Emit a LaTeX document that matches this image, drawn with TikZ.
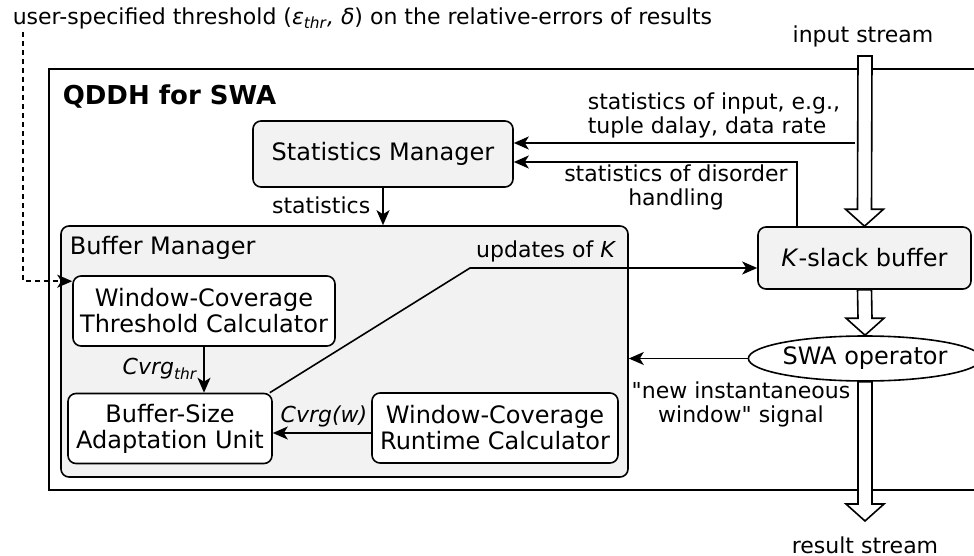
\documentclass[tikz,border=0pt]{standalone}
\usepackage{fontspec}
\setmainfont{DejaVu Sans}[Ligatures=TeXOff]
\usetikzlibrary{arrows.meta}
\usetikzlibrary{calc}
\usetikzlibrary{shapes.geometric}

\definecolor{panelgray}{RGB}{242,242,242}

% wide open arrow for the streams, from #1 down to the tip #2
\newcommand{\hollowarrow}[2]{%
  \draw[hollow] ($(#1)+(-7,0)$) -- ($(#1)+(7,0)$) -- ($(#2)+(7,-17)$) -- ($(#2)+(19,-17)$)
    -- (#2) -- ($(#2)+(-19,-17)$) -- ($(#2)+(-7,-17)$) -- cycle;}

\begin{document}
\begin{tikzpicture}[x=0.5pt,y=-0.5pt,line width=0.8pt,>={Stealth[length=7.5pt,width=6.5pt,inset=2pt]}]
          \tikzstyle{unit} = [draw=black, rounded corners=4pt, fill=white, align=center, font=\fontsize{12}{13}\selectfont, minimum height=35pt, inner sep=1pt]
          \tikzstyle{panel} = [unit, fill=panelgray]
          \tikzstyle{note} = [font=\fontsize{11}{12}\selectfont, inner sep=1pt]
          \tikzstyle{hollow} = [draw=black, fill=white, line join=miter]

          \useasboundingbox (0,0) rectangle (974,556);

          % Frame
          \draw (980,69) -- (49,69) -- (49,490) -- (980,490);
          \node[font=\bfseries\fontsize{13}{15}\selectfont, anchor=west, inner sep=0pt] (qddh) at (62,97) {QDDH for SWA};

          % Nodes
          \node[panel, minimum width=283.5pt, minimum height=125.5pt] (bm) at (344.5,351.5) {};
          \node[note, anchor=west, font=\fontsize{12}{13}\selectfont] (bmtitle) at (67,248) {Buffer Manager};
          \node[panel, minimum width=130pt, minimum height=33pt] (sm) at (383,154) {Statistics Manager};
          \node[unit, minimum width=131pt] (wctc) at (204,311) {Window-Coverage\\Threshold Calculator};
          \node[unit, minimum width=102pt] (bsau) at (170,428.5) {Buffer-Size\\Adaptation Unit};
          \node[unit, minimum width=123pt] (wcrc) at (495,428) {Window-Coverage\\Runtime Calculator};
          \node[panel, minimum width=106.5pt, minimum height=31pt] (kbuf) at (864.5,258) {\textit{K}-slack buffer};
          \node[ellipse, draw=black, fill=white, font=\fontsize{12}{13}\selectfont, minimum width=106.5pt, minimum height=22.5pt, inner sep=0pt] (swa) at (865,358.5) {SWA operator};

          \coordinate (thr) at (23,32);
          \coordinate (tap) at (855,143);
          \coordinate (bend) at (470,268);
          \coordinate (instart) at (865,56);
          \coordinate (resend) at (865,521);

          % Edges
          \draw[->, dash pattern=on 2.5pt off 2pt] (thr) |- ([yshift=-3pt]wctc.north west);
          \draw[->] (tap) -- (tap -| sm.east);
          \draw[->] ([xshift=-33.75pt]kbuf.north) |- ([yshift=-4pt]sm.east);
          \draw[->] (sm.south) -- (sm.south |- bm.north);
          \draw[->] (wctc.south) -- (wctc.south |- bsau.north);
          \draw[->] ([yshift=-2.5pt]wcrc.west) -- ([yshift=-2.5pt]wcrc.west -| bsau.east);
          \draw[->] ([xshift=-1.5pt]bsau.north east) -- (bend) -- (bend -| kbuf.west);
          \draw[->] (swa.west) -- (swa.west -| bm.east);

          % Streams
          \hollowarrow{instart}{kbuf.north}
          \hollowarrow{kbuf.south}{swa.north}
          \hollowarrow{swa.south}{resend}

          % Labels
          \node[note, anchor=west] (thrlbl) at (10,18) {user-specified threshold (\textit{ε\textsubscript{thr}, δ}) on the relative-errors of results};
          \node[note] (instream) at (863,36) {input stream};
          \node[note] (outstream) at (865,545) {result stream};
          \node[note, anchor=west, align=left] (instat) at (585,115) {statistics of input, e.g.,\\tuple dalay, data rate};
          \node[note, align=center] (disstat) at (676,187) {statistics of disorder\\handling};
          \node[note, anchor=east] (statlbl) at (373,205) {statistics};
          \node[note, anchor=east] (updlbl) at (619,251) {updates of \textit{K}};
          \node[note] (cthr) at (160,369) {\textit{Cvrg\textsubscript{thr}}};
          \node[note] (cw) at (324,416) {\textit{Cvrg(w)}};
          \node[note, align=center] (sig) at (741,404) {"new instantaneous\\window" signal};

        \end{tikzpicture}
\end{document}
